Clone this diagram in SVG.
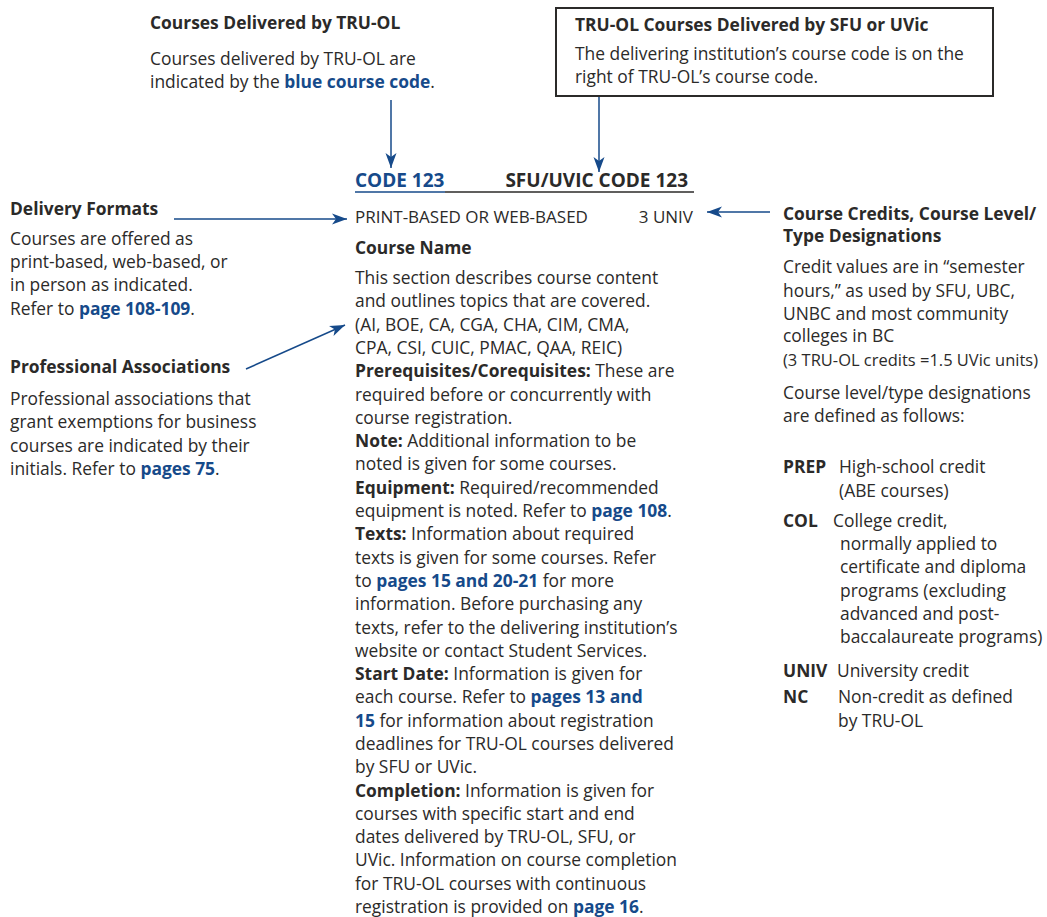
<svg xmlns="http://www.w3.org/2000/svg" width="1047" height="917" viewBox="0 0 1047 917">
<style>
text{font-family:"Open Sans","Noto Sans","Liberation Sans",sans-serif;font-size:17.4px;fill:#2b2a29}
.h{font-weight:bold}
.b{font-weight:bold}
.bl{font-weight:bold;fill:#164a8a}
.code{font-size:19px}
.sm{font-size:17px}
.cond{font-size:15.8px}
.ln{stroke:#164a8a;stroke-width:1.5;fill:none}
</style>
<defs>
<marker id="ah" markerUnits="userSpaceOnUse" markerWidth="18" markerHeight="12" viewBox="-16 -6 18 12" refX="0" refY="0" orient="auto">
<path d="M0,0 L-15,-5.5 L-11,0 L-15,5.5 Z" fill="#164a8a"/>
</marker>
</defs>
<rect width="1047" height="917" fill="#fff"/>

<g id="node-tru-ol">
<text class="h" x="150" y="29">Courses Delivered by TRU-OL</text>
<text x="150" y="65">Courses delivered by TRU-OL are</text>
<text x="150" y="88">indicated by the <tspan class="bl">blue course code</tspan>.</text>
</g>

<g id="node-sfu-uvic">
<rect x="556" y="8" width="437" height="88" fill="none" stroke="#2b2a29" stroke-width="2"/>
<text class="h" x="575" y="31">TRU-OL Courses Delivered by SFU or UVic</text>
<text x="575" y="60">The delivering institution’s course code is on the</text>
<text x="575" y="83">right of TRU-OL’s course code.</text>
</g>

<g id="node-delivery">
<text class="h" x="10" y="215">Delivery Formats</text>
<text x="10" y="245">Courses are offered as</text>
<text x="10" y="268">print-based, web-based, or</text>
<text x="10" y="291">in person as indicated.</text>
<text x="10" y="315">Refer to <tspan class="bl">page 108-109</tspan>.</text>
</g>

<g id="node-professional">
<text class="h" x="10" y="373">Professional Associations</text>
<text x="10" y="405">Professional associations that</text>
<text x="10" y="428">grant exemptions for business</text>
<text x="10" y="452">courses are indicated by their</text>
<text x="10" y="475">initials. Refer to <tspan class="bl">pages 75</tspan>.</text>
</g>

<g id="node-credits">
<text class="h" x="783" y="220">Course Credits, Course Level/</text>
<text class="h" x="783" y="242">Type Designations</text>
<text x="783" y="273">Credit values are in “semester</text>
<text x="783" y="297">hours,” as used by SFU, UBC,</text>
<text x="783" y="320">UNBC and most community</text>
<text x="783" y="342">colleges in BC</text>
<text class="cond" x="783" y="366" textLength="255" lengthAdjust="spacingAndGlyphs">(3 TRU-OL credits =1.5 UVic units)</text>
<text x="783" y="399">Course level/type designations</text>
<text x="783" y="422">are defined as follows:</text>
<text class="b" x="783" y="473">PREP</text>
<text x="839" y="473">High-school credit</text>
<text x="839" y="497">(ABE courses)</text>
<text class="b" x="783" y="527">COL</text>
<text x="833" y="527">College credit,</text>
<text x="840" y="550">normally applied to</text>
<text x="840" y="573">certificate and diploma</text>
<text x="840" y="597">programs (excluding</text>
<text x="840" y="620">advanced and post-</text>
<text x="840" y="643">baccalaureate programs)</text>
<text class="b" x="783" y="677">UNIV</text>
<text x="837" y="677">University credit</text>
<text class="b" x="783" y="703">NC</text>
<text x="838" y="703">Non-credit as defined</text>
<text x="838" y="727">by TRU-OL</text>
</g>

<g id="node-course-entry">
<text class="bl code" x="355" y="187">CODE 123</text>
<text class="b code" x="688" y="187" text-anchor="end">SFU/UVIC CODE 123</text>
<line x1="355" y1="192" x2="445" y2="192" stroke="#164a8a" stroke-width="1.5"/>
<line x1="445" y1="192" x2="694" y2="192" stroke="#2b2a29" stroke-width="1.5"/>
<text class="sm" x="355" y="223">PRINT-BASED OR WEB-BASED</text>
<text class="sm" x="693" y="223" text-anchor="end">3 UNIV</text>
<text class="b" x="355" y="254">Course Name</text>
<text x="355" y="284">This section describes course content</text>
<text x="355" y="307">and outlines topics that are covered.</text>
<text x="355" y="331">(AI, BOE, CA, CGA, CHA, CIM, CMA,</text>
<text x="355" y="354">CPA, CSI, CUIC, PMAC, QAA, REIC)</text>
<text x="355" y="377"><tspan class="b">Prerequisites/Corequisites:</tspan> These are</text>
<text x="355" y="401">required before or concurrently with</text>
<text x="355" y="424">course registration.</text>
<text x="355" y="447"><tspan class="b">Note:</tspan> Additional information to be</text>
<text x="355" y="470">noted is given for some courses.</text>
<text x="355" y="494"><tspan class="b">Equipment:</tspan> Required/recommended</text>
<text x="355" y="517">equipment is noted. Refer to <tspan class="bl">page 108</tspan>.</text>
<text x="355" y="540"><tspan class="b">Texts:</tspan> Information about required</text>
<text x="355" y="564">texts is given for some courses. Refer</text>
<text x="355" y="587">to <tspan class="bl">pages 15 and 20-21</tspan> for more</text>
<text x="355" y="610">information. Before purchasing any</text>
<text x="355" y="634">texts, refer to the delivering institution’s</text>
<text x="355" y="657">website or contact Student Services.</text>
<text x="355" y="680"><tspan class="b">Start Date:</tspan> Information is given for</text>
<text x="355" y="703">each course. Refer to <tspan class="bl">pages 13 and</tspan></text>
<text x="355" y="727"><tspan class="bl">15</tspan> for information about registration</text>
<text x="355" y="750">deadlines for TRU-OL courses delivered</text>
<text x="355" y="773">by SFU or UVic.</text>
<text x="355" y="797"><tspan class="b">Completion:</tspan> Information is given for</text>
<text x="355" y="820">courses with specific start and end</text>
<text x="355" y="843">dates delivered by TRU-OL, SFU, or</text>
<text x="355" y="866">UVic. Information on course completion</text>
<text x="355" y="890">for TRU-OL courses with continuous</text>
<text x="355" y="913">registration is provided on <tspan class="bl">page 16</tspan>.</text>
</g>

<g id="connectors">
<line class="ln" x1="391" y1="100" x2="391" y2="168" marker-end="url(#ah)"/>
<line class="ln" x1="599" y1="97" x2="599" y2="172" marker-end="url(#ah)"/>
<line class="ln" x1="174" y1="219" x2="347" y2="219" marker-end="url(#ah)"/>
<line class="ln" x1="246" y1="369" x2="345" y2="325" marker-end="url(#ah)"/>
<line class="ln" x1="770" y1="212" x2="707" y2="212" marker-end="url(#ah)"/>
</g>
</svg>
